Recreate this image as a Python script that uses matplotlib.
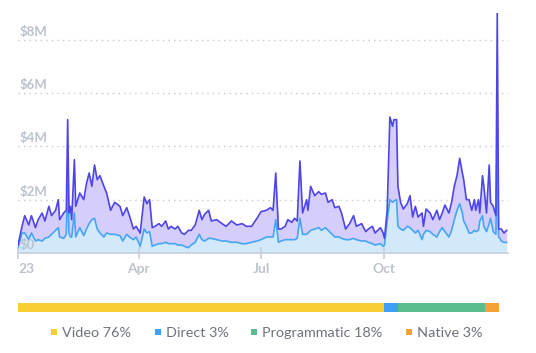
import numpy as np
import matplotlib
matplotlib.use('Agg')
import matplotlib.pyplot as plt
import matplotlib.transforms as mtransforms
from matplotlib.patches import Rectangle

# ── data (values in $M, x = day of 2023) ─────────────────────────────────────
day = [0, 3, 5, 8, 10, 13, 15, 18, 20, 23, 25, 28, 30, 31, 34, 36, 37, 38, 39, 40,
       42, 43, 46, 49, 51, 53, 55, 57, 59, 61, 64, 66, 69, 72, 76, 78, 81, 83, 86, 88,
       91, 94, 96, 98, 100, 102, 105, 107, 110, 112, 114, 117, 119, 122, 124, 127, 129,
       132, 135, 137, 139, 142, 144, 148, 152, 155, 159, 163, 167, 170, 174, 178, 181,
       185, 188, 190, 192, 194, 196, 199, 201, 204, 206, 208, 210, 212, 215, 216, 218,
       221, 224, 226, 229, 231, 234, 236, 239, 241, 244, 247, 250, 252, 256, 259, 261,
       264, 266, 270, 272, 273, 275, 277, 279, 280, 282, 283, 285, 287, 290, 292, 294,
       296, 298, 301, 302, 304, 307, 309, 312, 314, 316, 318, 321, 323, 325, 327, 329,
       331, 332, 334, 336, 338, 340, 341, 343, 344, 346, 347, 349, 351, 352, 354, 356,
       357, 358, 359, 360, 362, 364]
total = [0.3, 1.0, 1.4, 1.05, 1.4, 0.95, 1.25, 1.5, 1.2, 1.75, 1.4, 1.6, 2.0, 1.25, 1.5, 1.6, 5.0, 1.5, 1.75, 1.25,
         3.5, 1.75, 2.25, 2.0, 2.6, 3.0, 2.5, 3.3, 2.75, 2.9, 2.5, 2.25, 1.6, 1.9, 1.75, 1.4, 1.7, 1.4, 0.9, 1.0,
         0.75, 2.1, 1.85, 2.0, 0.95, 1.0, 1.1, 1.0, 1.2, 0.9, 1.0, 0.9, 1.0, 0.75, 0.7, 0.85, 0.85,
         1.05, 1.6, 1.25, 1.45, 1.6, 1.2, 1.25, 1.1, 1.0, 1.2, 1.05, 1.1, 1.0, 1.0, 1.3, 1.55,
         1.6, 1.7, 1.6, 3.0, 0.9, 0.9, 1.0, 1.25, 1.15, 1.3, 1.2, 3.45, 1.5, 2.0, 1.6, 2.5,
         2.15, 2.3, 2.2, 2.25, 1.9, 2.0, 1.7, 1.75, 1.5, 0.9, 1.1, 1.4, 1.0, 1.1, 0.8, 0.9,
         1.0, 0.75, 0.95, 0.75, 0.55, 1.6, 5.1, 4.75, 5.0, 5.0, 2.5, 1.9, 1.65, 1.85, 2.15, 1.35,
         1.75, 1.35, 1.5, 1.0, 1.65, 1.5, 1.25, 1.6, 1.25, 1.5, 1.8, 1.5, 1.9, 2.5, 2.9, 3.55,
         3.0, 2.75, 2.0, 2.0, 1.6, 2.0, 1.6, 2.0, 1.5, 2.9, 2.5, 1.5, 3.3, 1.9, 1.75, 1.4,
         9.0, 0.9, 0.9, 0.9, 0.75, 0.85]
lower = [0.2, 0.75, 0.75, 0.5, 0.75, 0.45, 0.5, 0.45, 0.55, 0.6, 0.7, 0.85, 0.95, 0.6, 0.55, 0.7, 2.6, 0.75, 0.6, 0.6,
         1.5, 0.6, 0.95, 0.65, 0.9, 1.1, 1.25, 1.3, 0.9, 0.75, 0.6, 0.75, 0.7, 0.7, 0.65, 0.45, 0.7, 0.6, 0.5, 0.6,
         0.25, 0.9, 0.75, 0.8, 0.25, 0.3, 0.35, 0.35, 0.4, 0.35, 0.35, 0.35, 0.3, 0.3, 0.25, 0.2, 0.3,
         0.4, 0.7, 0.5, 0.45, 0.55, 0.55, 0.5, 0.45, 0.45, 0.4, 0.4, 0.35, 0.35, 0.4, 0.45, 0.5,
         0.6, 0.6, 0.6, 1.25, 0.4, 0.45, 0.5, 0.5, 0.5, 0.5, 0.55, 1.3, 0.7, 0.7, 0.75, 0.85,
         0.9, 0.95, 0.85, 0.95, 0.85, 0.7, 0.6, 0.6, 0.55, 0.5, 0.5, 0.55, 0.5, 0.45, 0.45, 0.4,
         0.35, 0.3, 0.35, 0.25, 0.3, 1.2, 2.0, 1.9, 1.95, 2.0, 1.0, 0.9, 0.85, 1.0, 0.95, 0.85,
         0.75, 0.85, 0.5, 0.7, 0.85, 0.8, 0.7, 0.6, 0.8, 0.95, 0.8, 0.6, 0.85, 1.25, 1.6, 1.85,
         1.5, 1.2, 1.0, 0.75, 0.75, 0.85, 0.8, 0.85, 1.2, 1.4, 1.0, 0.8, 1.1, 1.3, 0.8, 0.7,
         4.75, 0.6, 0.55, 0.45, 0.4, 0.4]

y_ticks = [0, 2, 4, 6, 8]
y_labels = ['$0', '$2M', '$4M', '$6M', '$8M']
x_tick_days = [0, 90, 181, 273]
x_tick_labels = ['23', 'Apr', 'Jul', 'Oct']

mix_names = ['Video', 'Direct', 'Programmatic', 'Native']
mix_pct = [76, 3, 18, 3]
mix_colors = ['#f9cd33', '#3d9ff5', '#5bbd8d', '#f4a236']

plt.rcParams['font.family'] = ['Lato', 'DejaVu Sans']

# ── figure ───────────────────────────────────────────────────────────────────
W, H = 536, 353
fig = plt.figure(figsize=(W / 100, H / 100), dpi=100)
ax = fig.add_axes([18 / W, (H - 253) / H, 490 / W, 240 / H])

x = np.array(day)
tot = np.array(total)
low = np.array(lower)

ax.fill_between(x, 0, low, color='#d2e8fb', lw=0, zorder=1)
ax.fill_between(x, low, tot, color='#d5cdfb', lw=0, zorder=1)
ax.plot(x, low, color='#45a6f2', lw=1.2, zorder=3)
ax.plot(x, tot, color='#4d45e8', lw=1.2, zorder=4)

ax.set_xlim(0, 365)
ax.set_ylim(0, 9.0)

# dotted grid
for v in y_ticks[1:]:
    ax.axhline(v, color='#c3c8d1', lw=1.0, ls=(0, (1, 3)), zorder=0)

grey = '#bcc3ce'
trans = mtransforms.blended_transform_factory(ax.transAxes, ax.transData)
for v, lab in zip(y_ticks, y_labels):
    ax.text(0.004, v + 0.08, lab.replace('$', r'\$'), transform=trans, ha='left', va='bottom',
            fontsize=9.5, fontweight='bold', color=grey, zorder=6)

ax.set_yticks([])
ax.set_xticks(x_tick_days)
ax.set_xticklabels(x_tick_labels, fontsize=10, fontweight='bold', color=grey)
ax.get_xticklabels()[0].set_horizontalalignment('left')
ax.tick_params(axis='x', direction='inout', length=9, width=1.2, color='#c8ced8', pad=3)
for s in ['top', 'right', 'left']:
    ax.spines[s].set_visible(False)
ax.spines['bottom'].set_color('#c8ced8')
ax.spines['bottom'].set_linewidth(1.2)

# ── revenue mix bar ──────────────────────────────────────────────────────────
axb = fig.add_axes([18 / W, (H - 312) / H, 481 / W, 9 / H])
left = 0
for p, c in zip(mix_pct, mix_colors):
    axb.barh(0, p, left=left, height=1, color=c, lw=0)
    left += p
axb.set_xlim(0, 100)
axb.set_ylim(-0.5, 0.5)
axb.axis('off')

# legend
leg_x = [51, 155, 251, 406]
for xp, name, p, c in zip(leg_x, mix_names, mix_pct, mix_colors):
    fig.patches.append(Rectangle((xp / W, (H - 335) / H), 6 / W, 6 / H,
                                 transform=fig.transFigure, color=c, lw=0))
    fig.text((xp + 11) / W, (H - 333) / H, f'{name} {p}%', ha='left', va='center',
             fontsize=10.4, color='#6d727e')

fig.savefig('out.png', dpi=100)
